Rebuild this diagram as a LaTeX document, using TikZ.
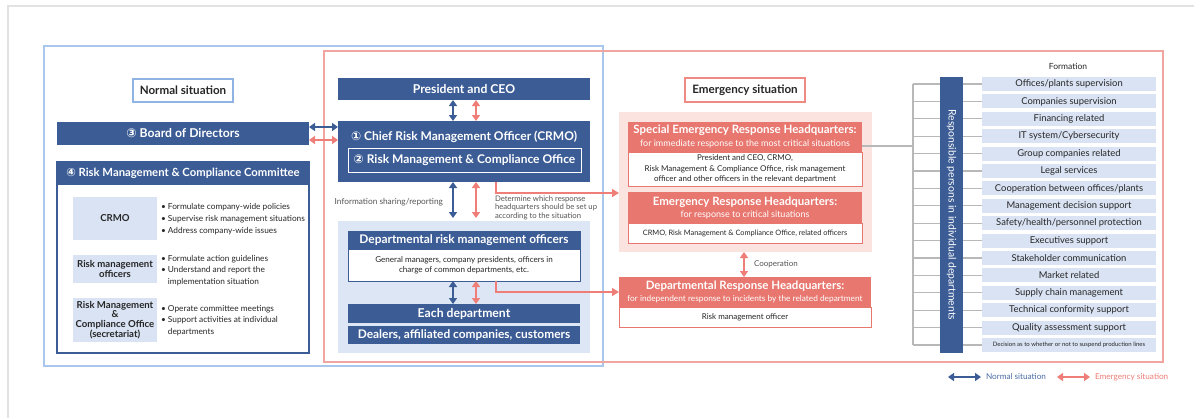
\documentclass[tikz,border=0pt]{standalone}
\usepackage{fontspec}
\setmainfont{Lato}
\newfontfamily\djv{DejaVu Sans}
\usetikzlibrary{arrows.meta}
\definecolor{dblue}{HTML}{3B5C95}
\definecolor{lbfill}{HTML}{D9E3F3}
\definecolor{panelc}{HTML}{DCE6F4}
\definecolor{bframe}{HTML}{A9C6EC}
\definecolor{pframe}{HTML}{F0A5A0}
\definecolor{salmon}{HTML}{E8776F}
\definecolor{pinkbg}{HTML}{FBE3E0}
\definecolor{parr}{HTML}{EE7E77}
\definecolor{nlabc}{HTML}{8FB3E3}
\definecolor{elabc}{HTML}{EF8A84}
\definecolor{notec}{HTML}{555555}
\definecolor{txt}{HTML}{262626}
\definecolor{gline}{HTML}{B8B8B8}
\definecolor{framegray}{HTML}{E2E2E2}
\definecolor{lgblue}{HTML}{4A6BA5}
\tikzset{
  hdr/.style={fill=dblue, text=white, font=\bfseries\fontsize{12.2}{14}\selectfont, align=center},
  hdrtext/.style={text=white, font=\bfseries\fontsize{12}{14}\selectfont},
  lab/.style={fill=white, line width=1.2pt, text=txt, font=\bfseries\fontsize{11.6}{13}\selectfont},
  lbox/.style={fill=lbfill, text=txt, align=center, font=\bfseries\fontsize{9.6}{9.8}\selectfont},
  blt/.style={align=left, text=txt},
  bodybox/.style={fill=white, align=center, text=txt, line width=1pt},
  note/.style={text=notec, font=\fontsize{8}{8.6}\selectfont},
  shdr/.style={fill=salmon},
  sttl/.style={text=white, font=\bfseries\fontsize{11.5}{13}\selectfont},
  ssub/.style={text=white, font=\fontsize{9}{10}\selectfont},
  fbox/.style={fill=lbfill, text=txt, minimum width=174pt, minimum height=14pt, font=\fontsize{9.4}{10}\selectfont},
  glin/.style={draw=gline, line width=1.1pt},
  barrow/.style={draw=dblue, line width=2pt, {Triangle[width=8pt,length=6pt]}-{Triangle[width=8pt,length=6pt]}},
  parrow/.style={draw=parr, line width=2pt, {Triangle[width=8pt,length=6pt]}-{Triangle[width=8pt,length=6pt]}},
  pelbow/.style={draw=parr, line width=1.4pt, -{Triangle[width=8pt,length=7pt]}},
}
\begin{document}
\begin{tikzpicture}[x=1pt,y=-1pt, every node/.style={inner sep=0pt,outer sep=0pt}]
\useasboundingbox (0,0) rectangle (1194,418);
\fill[white] (0,0) rectangle (1194,418);
\draw[framegray, line width=1.5pt] (8,418) -- (8,6) -- (1194,6);
% frames
\draw[bframe, line width=2pt] (44,46) rectangle (603,366);
\draw[pframe, line width=1.5pt] (324,51) rectangle (1163,362);

% ---------- normal situation (left) ----------
\node[lab, draw=nlabc, minimum width=100pt, minimum height=23pt] (nlab) at (183,90.5) {Normal situation};
\node[hdr, minimum width=252pt, minimum height=23pt] (bod) at (183,133.5) {{\djv ③} Board of Directors};
\node[draw=dblue, line width=1.2pt, fill=white, minimum width=252pt, minimum height=191pt] (rmcc) at (183,257.5) {};
\node[hdr, minimum width=252pt, minimum height=23pt, anchor=north, font=\bfseries\fontsize{11.3}{13}\selectfont] (rmcch) at (rmcc.north) {{\djv ④} Risk Management \& Compliance Committee};
\node[lbox, minimum width=84pt, minimum height=43pt] (c1) at (115,218.5) {CRMO};
\node[lbox, minimum width=84pt, minimum height=28pt] (c2) at (115,269) {Risk management\\officers};
\node[lbox, minimum width=84pt, minimum height=44pt] (c3) at (115,320) {Risk Management\\\&\\Compliance Office\\(secretariat)};
\node[blt, anchor=west, font=\fontsize{8.3}{12}\selectfont] (b1) at (161,219) {\textbullet\ Formulate company-wide policies\\\textbullet\ Supervise risk management situations\\\textbullet\ Address company-wide issues};
\node[blt, anchor=west, font=\fontsize{8.3}{11.5}\selectfont] (b2) at (161,270.5) {\textbullet\ Formulate action guidelines\\\textbullet\ Understand and report the\\\phantom{\textbullet}\ implementation situation};
\node[blt, anchor=west, font=\fontsize{8.3}{11.5}\selectfont] (b3) at (161,320.5) {\textbullet\ Operate committee meetings\\\textbullet\ Support activities at individual\\\phantom{\textbullet}\ departments};

% ---------- center column ----------
\node[hdr, minimum width=252pt, minimum height=22pt] (ceo) at (464,89) {President and CEO};
\node[fill=dblue, minimum width=252pt, minimum height=61pt] (crmo) at (464,151.5) {};
\node[hdrtext] (crmot) at (464,137) {{\djv ①} Chief Risk Management Officer (CRMO)};
\node[hdr, draw=white, line width=1pt, minimum width=233pt, minimum height=24pt, font=\bfseries\fontsize{12}{14}\selectfont] (rmco) at (464.5,160) {{\djv ②} Risk Management \& Compliance Office};

\node[fill=panelc, minimum width=252pt, minimum height=132pt] (dpan) at (464,287) {};
\node[hdr, draw=dblue, line width=1pt, minimum width=232pt, minimum height=18pt, font=\bfseries\fontsize{11.9}{13}\selectfont] (drmo) at (464,240) {Departmental risk management officers};
\node[bodybox, draw=dblue, minimum width=232pt, minimum height=32pt, anchor=north, font=\fontsize{8.1}{10}\selectfont] (drmob) at (drmo.south) {General managers, company presidents, officers in\\charge of common departments, etc.};
\node[hdr, minimum width=232pt, minimum height=19pt] (each) at (464,313.5) {Each department};
\node[hdr, minimum width=232pt, minimum height=18pt, font=\bfseries\fontsize{11.9}{13}\selectfont] (deal) at (464,335) {Dealers, affiliated companies, customers};

\node[note, anchor=east, font=\fontsize{8.3}{9}\selectfont] (info) at (443,202) {Information sharing/reporting};
\node[note, anchor=west, align=left, font=\fontsize{7.7}{8.6}\selectfont] (det) at (495,207.5) {Determine which response\\headquarters should be set up\\according to the situation};

% arrows center / left
\draw[barrow] ([yshift=6.5pt]bod.east) -- ([yshift=6.5pt]bod.east -| crmo.west);
\draw[parrow] ([yshift=-6.5pt]bod.east) -- ([yshift=-6.5pt]bod.east -| crmo.west);
\draw[barrow] ([xshift=-11pt]ceo.south) -- ([xshift=-11pt]ceo.south |- crmo.north);
\draw[parrow] ([xshift=12pt]ceo.south) -- ([xshift=12pt]ceo.south |- crmo.north);
\draw[barrow] ([xshift=-11pt]crmo.south) -- ([xshift=-11pt,yshift=3pt]crmo.south |- dpan.north);
\draw[parrow] ([xshift=12pt]crmo.south) -- ([xshift=12pt,yshift=3pt]crmo.south |- dpan.north);
\draw[barrow] ([xshift=-11pt]drmob.south) -- ([xshift=-11pt]drmob.south |- each.north);
\draw[parrow] ([xshift=12pt]drmob.south) -- ([xshift=12pt]drmob.south |- each.north);

% ---------- emergency ----------
\node[lab, draw=elabc, minimum width=120pt, minimum height=24pt] (elab) at (745,90) {Emergency situation};
\node[fill=pinkbg, minimum width=253pt, minimum height=140pt] (pbg) at (745.5,182) {};
\node[shdr, minimum width=234pt, minimum height=30pt] (seh) at (745,137) {};
\node[sttl] (seht) at (745,130) {Special Emergency Response Headquarters:};
\node[ssub] (sehs) at (745,143.5) {for immediate response to the most critical situations};
\node[bodybox, draw=salmon, minimum width=234pt, minimum height=34pt, anchor=north, font=\fontsize{8}{10.5}\selectfont] (sehb) at (seh.south) {President and CEO, CRMO,\\Risk Management \& Compliance Office, risk management\\officer and other officers in the relevant department};
\node[shdr, minimum width=234pt, minimum height=31pt] (erh) at (745,207.5) {};
\node[sttl] (erht) at (745,202) {Emergency Response Headquarters:};
\node[ssub] (erhs) at (745,214.5) {for response to critical situations};
\node[bodybox, draw=salmon, minimum width=234pt, minimum height=20pt, anchor=north, font=\fontsize{7.4}{9}\selectfont] (erhb) at (erh.south) {CRMO, Risk Management \& Compliance Office, related officers};

\node[shdr, minimum width=252pt, minimum height=30pt] (drh) at (745,292) {};
\node[sttl] (drht) at (745,286.5) {Departmental Response Headquarters:};
\node[ssub, font=\fontsize{8.3}{10}\selectfont] (drhs) at (745,299.5) {for independent response to incidents by the related department};
\node[bodybox, draw=salmon, minimum width=252pt, minimum height=20pt, anchor=north, font=\fontsize{8}{9}\selectfont] (drhb) at (drh.south) {Risk management officer};

\draw[parrow] ([xshift=-1.5pt]pbg.south) -- ([xshift=-1.5pt]pbg.south |- drh.north);
\node[note, anchor=west] (coop) at (754,264) {Cooperation};

\draw[pelbow] ([xshift=32pt]crmo.south) |- ([yshift=-11pt]pbg.west);
\draw[pelbow] ([xshift=32pt]drmob.south) |- (drh.west);

% ---------- formation ----------
\node[text=txt, font=\fontsize{8.5}{9}\selectfont] (form) at (1068,66) {Formation};
\coordinate (bx) at (913,84);
\foreach \t [count=\i] in {Offices/plants supervision, Companies supervision, Financing related, IT system/Cybersecurity, Group companies related, Legal services, Cooperation between offices/plants, Management decision support, Safety/health/personnel protection, Executives support, Stakeholder communication, Market related, Supply chain management, Technical conformity support, Quality assessment support}{
  \node[fbox] (f\i) at (1069,{84+17.4*(\i-1)}) {\t};
}
\node[fbox, font=\fontsize{6}{7}\selectfont] (f16) at (1069,{84+17.4*15}) {Decision as to whether or not to suspend production lines};
\node[fill=dblue, minimum width=23pt, minimum height=276pt] (bar) at (951.5,215) {};
\node[rotate=-90, text=white, font=\fontsize{10.4}{11}\selectfont] (bart) at (bar.center) {Responsible persons in individual departments};
\foreach \i in {1,...,16}{
  \draw[glin] (bx |- f\i.west) -- (bar.west |- f\i.west);
  \draw[glin] (bar.east |- f\i.west) -- (f\i.west);
}
\draw[glin] (bx |- f1.west) -- (bx |- f16.west);
\draw[glin] ([yshift=-9pt]seh.east) -- ([yshift=-9pt]seh.east -| bx);

% ---------- legend ----------
\coordinate (lg1) at (948,377);
\coordinate (lg2) at (981,377);
\coordinate (lg3) at (1057,377);
\coordinate (lg4) at (1090,377);
\draw[barrow] (lg1) -- (lg2);
\node[anchor=west, text=lgblue, font=\fontsize{8.2}{9}\selectfont] (lgt1) at (986,377) {Normal situation};
\draw[parrow] (lg3) -- (lg4);
\node[anchor=west, text=parr, font=\fontsize{8.2}{9}\selectfont] (lgt2) at (1095,377) {Emergency situation};
\end{tikzpicture}
\end{document}
